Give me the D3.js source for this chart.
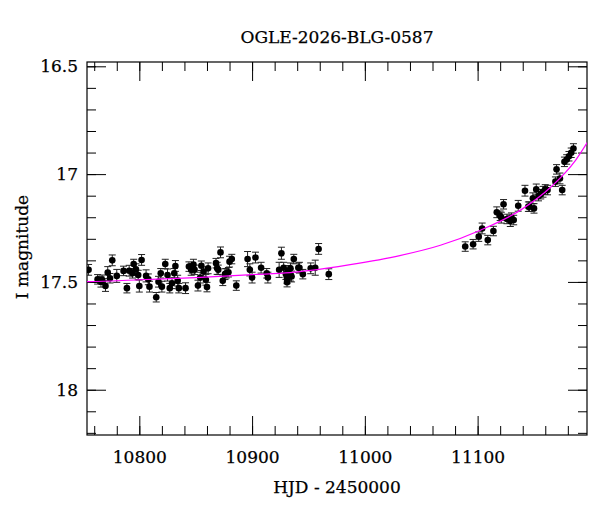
<!DOCTYPE html>
<html>
<head>
<meta charset="utf-8">
<script src="https://cdn.jsdelivr.net/npm/d3@7"></script>
<style>
  body { margin: 0; background: #fff; }
  text { font-family: "DejaVu Serif", serif; fill: #000; stroke: #000; stroke-width: 0.25; }
  .axis path { display: none; }
  .axis line { stroke: #000; stroke-width: 1; }
</style>
</head>
<body>
<svg id="chart" width="600" height="512"></svg>
<script>
// light curve: HJD-2450000, I magnitude, error
var hjd = [10755, 10763, 10766, 10767, 10770, 10772, 10774, 10776, 10780, 10786,
           10789, 10791, 10794, 10795, 10797, 10799, 10800, 10802, 10806, 10808,
           10809, 10815, 10817, 10819, 10820, 10823, 10825, 10827, 10829, 10831,
           10832, 10834, 10835, 10841, 10844, 10846, 10847, 10848, 10849, 10852,
           10854, 10855, 10857, 10859, 10860, 10861, 10868, 10869, 10870, 10872,
           10874, 10876, 10877, 10879, 10880, 10882, 10886, 10896, 10898, 10900,
           10903, 10908, 10913, 10914, 10924, 10926, 10928, 10930, 10931, 10931,
           10932, 10934, 10934, 10935, 10937, 10941, 10942, 10945, 10952, 10956,
           10959, 10968,
           11089, 11096, 11101, 11104, 11109, 11114, 11117, 11120, 11121, 11123,
           11126, 11129, 11130, 11132, 11136, 11142, 11145, 11146, 11149, 11150,
           11152, 11154, 11156, 11158, 11160, 11162, 11169, 11170, 11173, 11175,
           11177, 11179, 11181, 11183, 11185];
var mag = [17.444, 17.488, 17.499, 17.490, 17.519, 17.457, 17.483, 17.400, 17.472, 17.449,
           17.529, 17.448, 17.460, 17.417, 17.441, 17.468, 17.519, 17.398, 17.472, 17.488,
           17.522, 17.571, 17.499, 17.460, 17.522, 17.417, 17.468, 17.529, 17.506, 17.460,
           17.426, 17.494, 17.529, 17.529, 17.429, 17.444, 17.437, 17.420, 17.444, 17.517,
           17.480, 17.425, 17.452, 17.490, 17.524, 17.437, 17.413, 17.437, 17.444, 17.363,
           17.495, 17.464, 17.460, 17.455, 17.406, 17.394, 17.517, 17.394, 17.444, 17.480,
           17.387, 17.434, 17.460, 17.480, 17.444, 17.367, 17.434, 17.464, 17.483, 17.501,
           17.449, 17.468, 17.437, 17.475, 17.394, 17.434, 17.434, 17.464, 17.437, 17.434,
           17.347, 17.464,
           17.336, 17.325, 17.290, 17.252, 17.306, 17.264, 17.177, 17.193, 17.202, 17.140,
           17.208, 17.218, 17.202, 17.213, 17.147, 17.077, 17.151, 17.151, 17.112, 17.159,
           17.071, 17.102, 17.093, 17.082, 17.071, 17.074, 17.035, 16.978, 17.020, 17.074,
           16.943, 16.932, 16.917, 16.901, 16.881];
var err = [0.025, 0.022, 0.025, 0.022, 0.025, 0.028, 0.022, 0.025, 0.030, 0.022,
           0.022, 0.025, 0.022, 0.022, 0.025, 0.022, 0.028, 0.025, 0.028, 0.025,
           0.025, 0.022, 0.025, 0.022, 0.025, 0.022, 0.028, 0.022, 0.025, 0.022,
           0.025, 0.025, 0.022, 0.025, 0.022, 0.025, 0.022, 0.025, 0.022, 0.025,
           0.025, 0.022, 0.022, 0.025, 0.022, 0.025, 0.022, 0.028, 0.022, 0.025,
           0.022, 0.025, 0.022, 0.022, 0.025, 0.022, 0.022, 0.035, 0.028, 0.025,
           0.025, 0.025, 0.022, 0.025, 0.035, 0.028, 0.025, 0.025, 0.025, 0.022,
           0.025, 0.028, 0.025, 0.025, 0.022, 0.022, 0.025, 0.022, 0.025, 0.035,
           0.025, 0.025,
           0.022, 0.022, 0.022, 0.025, 0.022, 0.022, 0.025, 0.022, 0.025, 0.022,
           0.022, 0.025, 0.022, 0.022, 0.025, 0.025, 0.022, 0.022, 0.025, 0.022,
           0.025, 0.022, 0.022, 0.025, 0.022, 0.022, 0.022, 0.022, 0.025, 0.022,
           0.022, 0.022, 0.022, 0.022, 0.022];

// fitted model
var modelHjd = [10740, 10755, 10800, 10850, 10900, 10934, 10950, 10987, 11031, 11067,
                11103, 11138, 11165, 11187, 11200];
var modelMag = [17.50, 17.499, 17.490, 17.480, 17.466, 17.457, 17.448, 17.420, 17.378, 17.330,
                17.259, 17.167, 17.060, 16.935, 16.830];

var xMajor = [10800, 10900, 11000, 11100];
var yMajor = [16.5, 17, 17.5, 18];

var margin = {top: 62, right: 13, bottom: 77, left: 87},
    width = 600 - margin.left - margin.right,
    height = 512 - margin.top - margin.bottom;

var svg = d3.select("#chart");
var g = svg.append("g")
    .attr("transform", "translate(" + margin.left + "," + margin.top + ")");

var x = d3.scaleLinear().domain([10753.6, 11197]).range([0, width]);
var y = d3.scaleLinear().domain([16.48, 18.21]).range([0, height]);

var xMinor = d3.range(10760, 11197, 20);
var yMinor = d3.range(16.5, 18.21, 0.1).map(function(v) { return +v.toFixed(1); });

g.append("clipPath").attr("id", "clip")
  .append("rect").attr("width", width).attr("height", height);

// minor ticks, all four sides, pointing in
g.append("g").attr("class", "axis").attr("transform", "translate(0," + height + ")")
    .call(d3.axisBottom(x).tickValues(xMinor).tickSize(-9).tickFormat(""));
g.append("g").attr("class", "axis")
    .call(d3.axisTop(x).tickValues(xMinor).tickSize(-9).tickFormat(""));
g.append("g").attr("class", "axis")
    .call(d3.axisLeft(y).tickValues(yMinor).tickSize(-9).tickFormat(""));
g.append("g").attr("class", "axis").attr("transform", "translate(" + width + ",0)")
    .call(d3.axisRight(y).tickValues(yMinor).tickSize(-9).tickFormat(""));

// major ticks with labels
g.append("g").attr("class", "axis").attr("transform", "translate(0," + height + ")")
    .call(d3.axisBottom(x).tickValues(xMajor).tickSize(-19).tickPadding(16).tickFormat(d3.format("d")))
    .selectAll("text").style("font-size", "17px");
g.append("g").attr("class", "axis")
    .call(d3.axisTop(x).tickValues(xMajor).tickSize(-19).tickFormat(""));
g.append("g").attr("class", "axis")
    .call(d3.axisLeft(y).tickValues(yMajor).tickSize(-19).tickPadding(9).tickFormat(function(d) { return d; }))
    .selectAll("text").style("font-size", "17px");
g.append("g").attr("class", "axis").attr("transform", "translate(" + width + ",0)")
    .call(d3.axisRight(y).tickValues(yMajor).tickSize(-19).tickFormat(""));

// frame
g.append("rect").attr("width", width).attr("height", height)
    .attr("fill", "none").attr("stroke", "#000").attr("stroke-width", 1.2);

var data = hjd.map(function(t, i) { return {t: t, m: mag[i], e: err[i]}; });
var plot = g.append("g").attr("clip-path", "url(#clip)");

// error bars
var bars = plot.selectAll(".eb").data(data).enter().append("g").attr("class", "eb")
    .attr("stroke", "#222").attr("stroke-width", 1);
bars.append("line")
    .attr("x1", function(d) { return x(d.t); }).attr("x2", function(d) { return x(d.t); })
    .attr("y1", function(d) { return y(d.m - d.e); }).attr("y2", function(d) { return y(d.m + d.e); });
bars.append("line")
    .attr("x1", function(d) { return x(d.t) - 3.5; }).attr("x2", function(d) { return x(d.t) + 3.5; })
    .attr("y1", function(d) { return y(d.m - d.e); }).attr("y2", function(d) { return y(d.m - d.e); });
bars.append("line")
    .attr("x1", function(d) { return x(d.t) - 3.5; }).attr("x2", function(d) { return x(d.t) + 3.5; })
    .attr("y1", function(d) { return y(d.m + d.e); }).attr("y2", function(d) { return y(d.m + d.e); });

// points
plot.selectAll(".pt").data(data).enter().append("circle").attr("class", "pt")
    .attr("cx", function(d) { return x(d.t); })
    .attr("cy", function(d) { return y(d.m); })
    .attr("r", 3.3)
    .attr("fill", "#000");

// model curve
var line = d3.line()
    .x(function(d, i) { return x(modelHjd[i]); })
    .y(function(d) { return y(d); })
    .curve(d3.curveMonotoneX);
plot.append("path").datum(modelMag)
    .attr("d", line)
    .attr("fill", "none")
    .attr("stroke", "#ff00ff")
    .attr("stroke-width", 1.2);

// titles
svg.append("text").attr("x", margin.left + width / 2).attr("y", 43)
    .attr("text-anchor", "middle").style("font-size", "17px")
    .text("OGLE-2026-BLG-0587");
svg.append("text").attr("x", margin.left + width / 2).attr("y", 493)
    .attr("text-anchor", "middle").style("font-size", "17px")
    .text("HJD - 2450000");
svg.append("text").attr("transform", "translate(28,247) rotate(-90)")
    .attr("text-anchor", "middle").style("font-size", "17px")
    .text("I magnitude");
</script>
</body>
</html>
